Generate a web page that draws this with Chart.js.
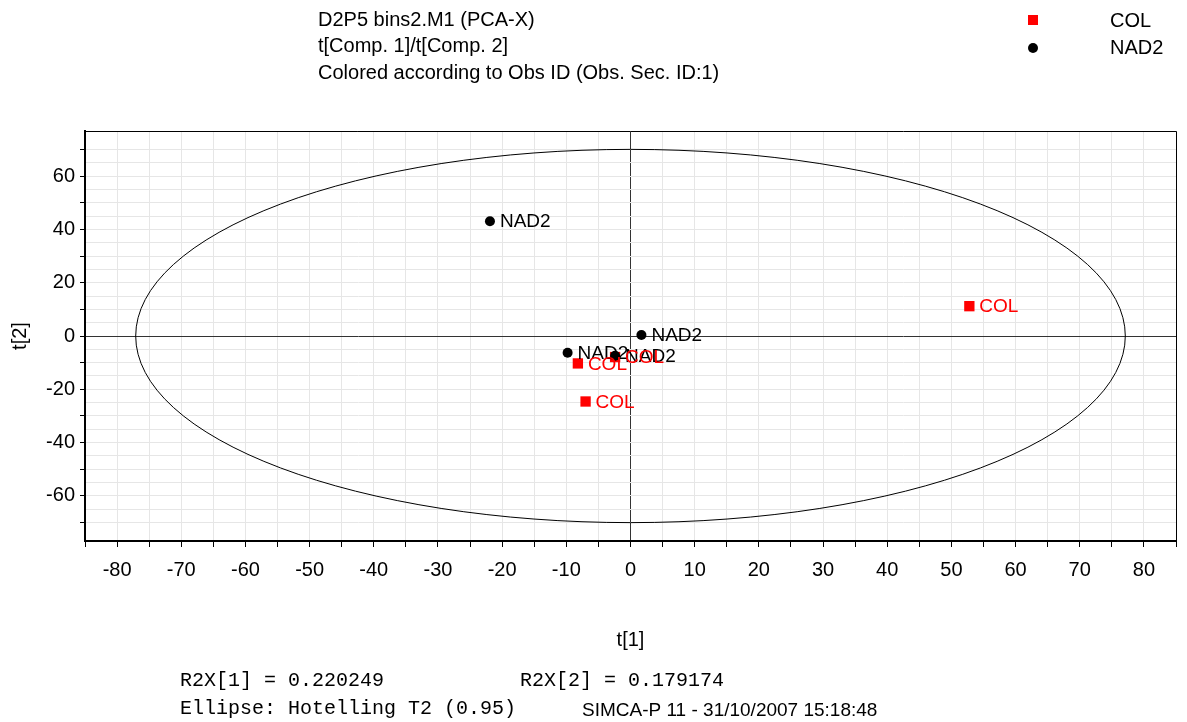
<!DOCTYPE html>
<html>
<head>
<meta charset="utf-8">
<script src="https://cdn.jsdelivr.net/npm/chart.js@4.4.1/dist/chart.umd.min.js"></script>
<style>
  html, body { margin: 0; padding: 0; background: #fff; }
  #wrap { position: relative; width: 1187px; height: 722px; }
</style>
</head>
<body>
<div id="wrap"><canvas id="scoreChart" width="1187" height="722"></canvas></div>
<script>
// Scores t[1] / t[2]
const colX = [52.8, -8.2, -7.0, -2.4];
const colY = [11.2, -10.3, -24.6, -7.9];
const nadX = [-21.9, 1.7, -9.8, -2.4];
const nadY = [43.1, 0.4, -6.3, -7.4];
const seriesNames = ['COL', 'NAD2'];
const seriesColors = ['#ff0000', '#000000'];
const xRange = [-85, 85];
const yRange = [-77, 77];
const ellipseRadius = [77.1, 70.1]; // Hotelling T2 (0.95)

const titleLines = [
  'D2P5 bins2.M1 (PCA-X)',
  't[Comp. 1]/t[Comp. 2]',
  'Colored according to Obs ID (Obs. Sec. ID:1)'
];
const footR2X1 = 'R2X[1] = 0.220249';
const footR2X2 = 'R2X[2] = 0.179174';
const footEllipse = 'Ellipse: Hotelling T2 (0.95)';
const footStamp = 'SIMCA-P 11 - 31/10/2007 15:18:48';

const SANS = "'Liberation Sans', Arial, sans-serif";
const MONO = "'Liberation Mono', 'Courier New', monospace";
Chart.defaults.font.family = SANS;

function toPoints(xs, ys) {
  return xs.map((x, i) => ({ x: x, y: ys[i] }));
}

// Elipse, marco y textos
const decorPlugin = {
  id: 'decor',
  beforeDatasetsDraw(chart) {
    const { ctx, scales: { x, y } } = chart;
    const cx = x.getPixelForValue(0);
    const cy = y.getPixelForValue(0);
    const rx = x.getPixelForValue(ellipseRadius[0]) - cx;
    const ry = cy - y.getPixelForValue(ellipseRadius[1]);
    ctx.save();
    ctx.strokeStyle = '#000';
    ctx.lineWidth = 1;
    ctx.beginPath();
    ctx.ellipse(cx, cy, rx, ry, 0, 0, Math.PI * 2);
    ctx.stroke();
    ctx.restore();
  },
  afterDatasetsDraw(chart) {
    const ctx = chart.ctx;
    ctx.save();
    ctx.font = '19px ' + SANS;
    ctx.textBaseline = 'middle';
    chart.data.datasets.forEach((ds, i) => {
      const meta = chart.getDatasetMeta(i);
      ctx.fillStyle = ds.backgroundColor;
      meta.data.forEach(pt => {
        ctx.fillText(ds.label, pt.x + 10, pt.y + 1);
      });
    });
    ctx.restore();
  },
  afterDraw(chart) {
    const { ctx, chartArea: a } = chart;
    ctx.save();
    // marco superior y derecho
    ctx.strokeStyle = '#000';
    ctx.lineWidth = 1;
    ctx.beginPath();
    ctx.moveTo(a.left, a.top + 0.5);
    ctx.lineTo(a.right + 0.5, a.top + 0.5);
    ctx.lineTo(a.right + 0.5, a.bottom);
    ctx.stroke();

    // título
    ctx.fillStyle = '#000';
    ctx.textBaseline = 'middle';
    ctx.font = '20px ' + SANS;
    titleLines.forEach((t, i) => ctx.fillText(t, 318, 20 + i * 26.5));

    // leyenda
    ctx.fillStyle = seriesColors[0];
    ctx.fillRect(1028, 15, 10, 10);
    ctx.fillStyle = seriesColors[1];
    ctx.beginPath();
    ctx.arc(1033, 48, 5, 0, Math.PI * 2);
    ctx.fill();
    ctx.fillStyle = '#000';
    ctx.fillText(seriesNames[0], 1110, 21);
    ctx.fillText(seriesNames[1], 1110, 48);

    // títulos de ejes
    ctx.textAlign = 'center';
    ctx.font = '20px ' + SANS;
    ctx.fillText('t[1]', (a.left + a.right) / 2, 640);
    ctx.save();
    ctx.translate(20, (a.top + a.bottom) / 2);
    ctx.rotate(-Math.PI / 2);
    ctx.fillText('t[2]', 0, 0);
    ctx.restore();

    // pie
    ctx.textAlign = 'left';
    ctx.font = '20px ' + MONO;
    ctx.fillText(footR2X1, 180, 681);
    ctx.fillText(footR2X2, 520, 681);
    ctx.fillText(footEllipse, 180, 709);
    ctx.font = '19px ' + SANS;
    ctx.fillText(footStamp, 582, 711);
    ctx.restore();
  }
};

const ctx = document.getElementById('scoreChart').getContext('2d');
new Chart(ctx, {
  type: 'scatter',
  data: {
    datasets: [
      {
        label: seriesNames[1],
        data: toPoints(nadX, nadY),
        backgroundColor: seriesColors[1],
        borderColor: seriesColors[1],
        pointStyle: 'circle',
        pointRadius: 5,
        borderWidth: 0,
        order: 0
      },
      {
        label: seriesNames[0],
        data: toPoints(colX, colY),
        backgroundColor: seriesColors[0],
        borderColor: seriesColors[0],
        pointStyle: 'rect',
        pointRadius: 7.3,
        borderWidth: 0,
        order: 1
      }
    ]
  },
  options: {
    responsive: false,
    animation: false,
    events: [],
    layout: { padding: { left: 0, top: 131, right: 5, bottom: 136 } },
    plugins: {
      legend: { display: false },
      tooltip: { enabled: false }
    },
    scales: {
      x: {
        type: 'linear',
        min: xRange[0],
        max: xRange[1],
        ticks: {
          stepSize: 5,
          autoSkip: false,
          maxRotation: 0,
          color: '#000',
          font: { size: 20 },
          padding: 11,
          callback: v => (v % 10 === 0 ? String(v) : '')
        },
        grid: {
          color: c => (c.tick && c.tick.value === 0 ? '#333' : '#e6e6e6'),
          lineWidth: 1,
          tickColor: '#000',
          tickLength: 6
        },
        border: { color: '#000', width: 2 },
        afterFit: s => { s.height = 45; }
      },
      y: {
        type: 'linear',
        min: yRange[0],
        max: yRange[1],
        ticks: {
          stepSize: 5,
          autoSkip: false,
          color: '#000',
          font: { size: 20 },
          padding: 5,
          callback: v => (v % 20 === 0 ? String(v) : '')
        },
        grid: {
          color: c => (c.tick && c.tick.value === 0 ? '#333' : '#e6e6e6'),
          lineWidth: 1,
          tickColor: c => (c.tick && c.tick.value % 10 === 0 ? '#000' : 'rgba(0,0,0,0)'),
          tickLength: 5
        },
        border: { color: '#000', width: 2 },
        afterFit: s => { s.width = 85; }
      }
    }
  },
  plugins: [decorPlugin]
});
</script>
</body>
</html>
